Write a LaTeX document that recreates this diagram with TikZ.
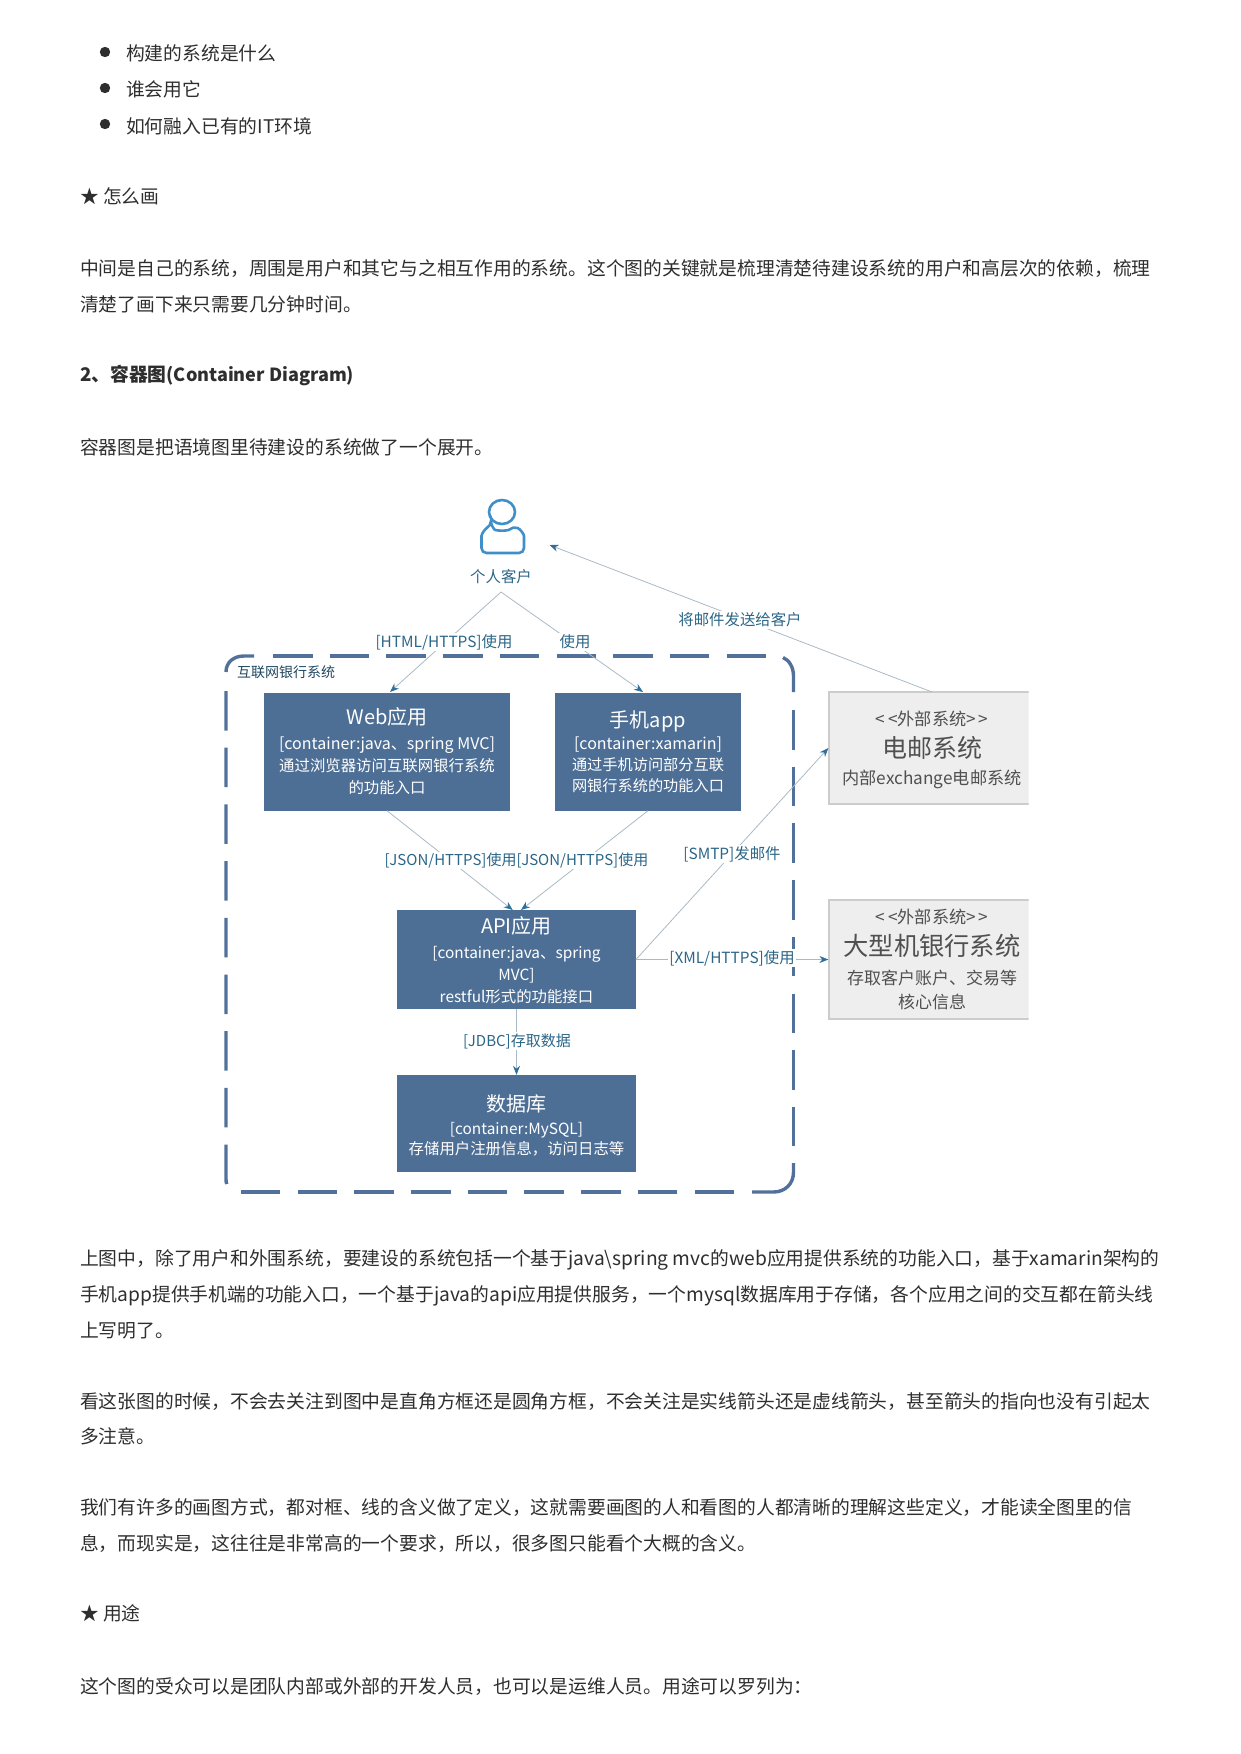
\documentclass[tikz,border=0pt]{standalone}
\usepackage{fontspec}
\setmainfont{Noto Sans CJK SC}
\usetikzlibrary{arrows.meta}
\definecolor{boxblue}{HTML}{4E6F95}
\definecolor{dashblue}{HTML}{52719A}
\definecolor{labelblue}{HTML}{2B6688}
\definecolor{tipblue}{HTML}{2F6F9C}
\definecolor{linegrey}{HTML}{A9BAC4}
\definecolor{personblue}{HTML}{3F8FC8}
\definecolor{bodytext}{HTML}{2E2E2E}
\definecolor{extfill}{HTML}{EEEEEE}
\definecolor{extline}{HTML}{CCCCCC}
\definecolor{exttext}{HTML}{505050}
\newcommand{\pxfont}[2]{\fontsize{#1}{#2}\selectfont}
\newcommand{\lat}[1]{{\fontsize{19.2}{24}\selectfont #1}}
\tikzset{
  para/.style={anchor=west,inner sep=0pt,text=bodytext,font=\pxfont{18.78}{24},text height=14pt,text depth=3pt},
  bullet/.style={circle,fill=bodytext,draw=none,minimum size=10.4pt,inner sep=0pt},
  cbox/.style={rectangle,fill=boxblue,draw=none,text=white,align=center,inner sep=0pt},
  extbox/.style={rectangle,fill=extfill,draw=extline,line width=1.2pt,text=exttext,align=center,inner sep=0pt},
  conn/.style={draw=linegrey,line width=0.8pt,-{Stealth[length=9pt,width=7pt,color=tipblue]}},
  clabel/.style={fill=white,text=labelblue,font=\pxfont{15.4}{18},inner sep=1.5pt},
  sysline/.style={draw=dashblue,line width=3.4pt},
  sysdash/.style={sysline,dash pattern=on 39.5pt off 17.2pt},
}
\begin{document}
\begin{tikzpicture}[x=1pt,y=-1pt]
\useasboundingbox (0,0) rectangle (1240,1754);
% page text
\node[bullet] (b1) at (105,52) {};
\node[bullet] (b2) at (105,88) {};
\node[bullet] (b3) at (105,124) {};
\node[para] (t1) at (126,55) {构建的系统是什么};
\node[para] (t2) at (126,91) {谁会用它};
\node[para] (t3) at (126,128) {如何融入已有的IT环境};
\node[para] (t4) at (80,198) {★ 怎么画};
\node[para] (t5) at (80,270) {中间是自己的系统，周围是用户和其它与之相互作用的系统。这个图的关键就是梳理清楚待建设系统的用户和高层次的依赖，梳理};
\node[para] (t6) at (80,306) {清楚了画下来只需要几分钟时间。};
\node[para,font=\pxfont{18.78}{24}\bfseries] (t7) at (80,376) {2、容器图{\fontsize{18.1}{24}\selectfont (Container Diagram)}};
\node[para] (t8) at (80,449) {容器图是把语境图里待建设的系统做了一个展开。};
\node[para] (t9) at (80,1259.5) {上图中，除了用户和外围系统，要建设的系统包括一个基于\lat{java\textbackslash spring mvc}的\lat{web}应用提供系统的功能入口，基于\lat{xamarin}架构的};
\node[para] (t10) at (80,1296) {手机\lat{app}提供手机端的功能入口，一个基于\lat{java}的\lat{api}应用提供服务，一个\lat{mysql}数据库用于存储，各个应用之间的交互都在箭头线};
\node[para] (t11) at (80,1332) {上写明了。};
\node[para] (t12) at (80,1402.5) {看这张图的时候，不会去关注到图中是直角方框还是圆角方框，不会关注是实线箭头还是虚线箭头，甚至箭头的指向也没有引起太};
\node[para] (t13) at (80,1438) {多注意。};
\node[para] (t14) at (80,1508.5) {我们有许多的画图方式，都对框、线的含义做了定义，这就需要画图的人和看图的人都清晰的理解这些定义，才能读全图里的信};
\node[para] (t15) at (80,1544.5) {息，而现实是，这往往是非常高的一个要求，所以，很多图只能看个大概的含义。};
\node[para] (t16) at (80,1614.5) {★ 用途};
\node[para] (t17) at (80,1687.5) {这个图的受众可以是团队内部或外部的开发人员，也可以是运维人员。用途可以罗列为：};
% system boundary
\draw[sysline] (226,672) .. controls (226,662) and (234,656) .. (244,656) -- (254,656);
\draw[sysdash] (273,656) -- (766,656);
\draw[sysline] (783,657.5) .. controls (789,660) and (793.5,667) .. (793.5,676) -- (793.5,692);
\draw[sysdash] (793.5,710) -- (793.5,1147);
\draw[sysline] (793.5,1163) -- (793.5,1172) .. controls (793.5,1184) and (785,1192) .. (773.5,1192) -- (752,1192);
\draw[sysdash] (734,1192) -- (241,1192);
\draw[sysdash] (226,691) -- (226,1179) .. controls (226,1183) and (227,1186) .. (229,1188);
\node[text=labelblue!70!black,font=\pxfont{14}{16},inner sep=0pt] (sys) at (286,672) {互联网银行系统};
% person
\draw[personblue,line width=2.6pt] (502,512) ellipse [x radius=13,y radius=12];
\draw[personblue,line width=2.6pt,rounded corners=5pt]
  (491,526) .. controls (485,529) and (481.5,534) .. (481.5,541) -- (481.5,553) -- (524,553) -- (524,541)
  .. controls (524,534) and (520,529) .. (513,526) .. controls (508,531) and (496,531) .. (491,526) -- cycle;
\node[text=labelblue,font=\pxfont{15.4}{18},inner sep=0pt] (person) at (501,576.5) {个人客户};
\coordinate (apex) at (501,592);
\coordinate (persontip) at (549.5,545);
% boxes
\node[cbox,minimum width=246pt,minimum height=118pt,font=\pxfont{15.4}{22}] (web) at (387,751.5)
  {{\pxfont{20}{22}Web应用}\\[3pt]{\pxfont{16}{22}[container:java、spring MVC]}\\通过浏览器访问互联网银行系统\\的功能入口};
\node[cbox,minimum width=186pt,minimum height=118pt,font=\pxfont{15.2}{21}] (app) at (648,751.5)
  {{\pxfont{20}{22}手机app}\\[1pt]{\pxfont{16}{21}[container:xamarin]}\\通过手机访问部分互联\\网银行系统的功能入口};
\node[cbox,minimum width=238.5pt,minimum height=99pt,font=\pxfont{15.4}{22}] (api) at (516.5,959.5)
  {\rule{0pt}{19pt}{\pxfont{20}{22}API应用}\\[3pt][container:java、spring\\MVC]\\restful形式的功能接口};
\node[cbox,minimum width=238.5pt,minimum height=97pt,font=\pxfont{15.4}{20}] (db) at (516.5,1123.5)
  {\rule{0pt}{20pt}{\pxfont{20}{22}数据库}\\[3pt][container:MySQL]\\存储用户注册信息，访问日志等};
\begin{scope}
\clip (820,680) rectangle (1028.5,1030);
\node[extbox,minimum width=206pt,minimum height=112pt,font=\pxfont{17.2}{23}] (mail) at (932,748)
  {\rule{0pt}{19pt}<\kern3pt<外部系统>\kern3pt>\\[8.4pt]{\pxfont{25}{28}电邮系统}\\[4.6pt]内部exchange电邮系统};
\node[extbox,minimum width=206pt,minimum height=119pt,font=\pxfont{17}{24}] (bank) at (932,959.5)
  {{\pxfont{17.2}{24}<\kern3pt<外部系统>\kern3pt>}\\[8pt]{\pxfont{25.3}{28}大型机银行系统}\\[4.6pt]存取客户账户、交易等\\核心信息};
\end{scope}
% connector end points
\coordinate (webtop) at (390,692);
\coordinate (apptop) at (643,692);
\coordinate (apiin1) at (512.7,910);
\coordinate (apiin2) at (521,910);
\coordinate (mailtop) at (932,692);
% connectors
\draw[conn] (apex) -- (webtop);
\draw[conn] (apex) -- (apptop);
\draw[conn] (mailtop) -- (persontip);
\draw[conn] (web.south) -- (apiin1);
\draw[conn] (app.south) -- (apiin2);
\draw[conn] (api.east) -- (mail.west);
\draw[conn] (api.east) -- (bank.west);
\draw[conn] (api.south) -- (db.north);
% connector labels
\node[clabel] (l1) at (444,642) {[HTML/HTTPS]使用};
\node[clabel] (l2) at (575,642) {使用};
\node[clabel] (l3) at (740,620) {将邮件发送给客户};
\node[clabel,inner sep=1pt,font=\pxfont{15}{18}] (l4) at (516.5,860.5) {[JSON/HTTPS]使用[JSON/HTTPS]使用};
\node[clabel] (l5) at (732,854) {[SMTP]发邮件};
\node[clabel,inner sep=1pt] (l6) at (732,958) {[XML/HTTPS]使用};
\node[clabel,font=\pxfont{15}{18}] (l7) at (517,1041) {[JDBC]存取数据};
\end{tikzpicture}
\end{document}
